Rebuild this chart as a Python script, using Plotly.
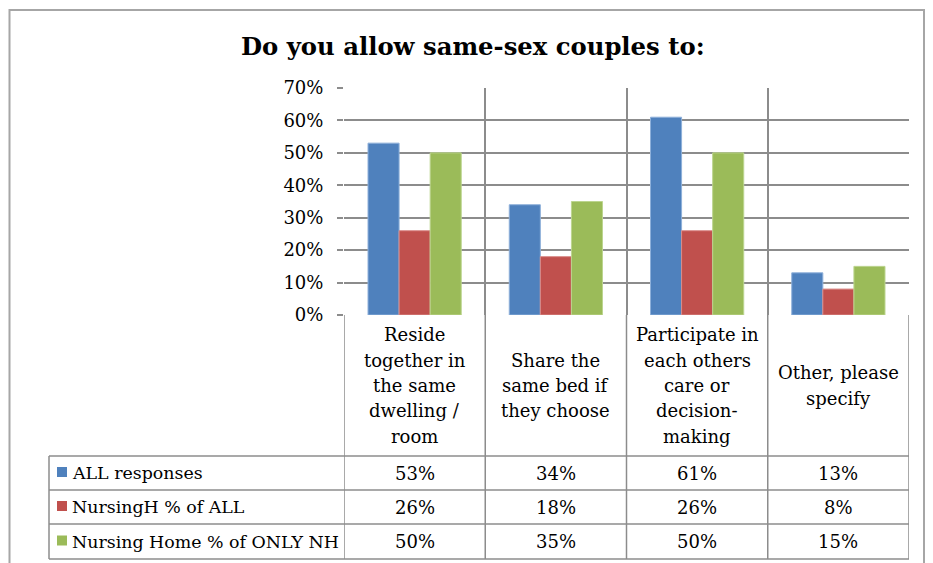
import plotly.graph_objects as go

categories = [
    "Reside together in the same dwelling / room",
    "Share the same bed if they choose",
    "Participate in each others care or decision-making",
    "Other, please specify",
]
category_label_lines = [
    ["Reside", "together in", "the same", "dwelling /", "room"],
    ["Share the", "same bed if", "they choose"],
    ["Participate in", "each others", "care or", "decision-", "making"],
    ["Other, please", "specify"],
]
series_names = ["ALL responses", "NursingH % of ALL", "Nursing Home % of ONLY NH"]
all_responses = [0.53, 0.34, 0.61, 0.13]
nursingh_of_all = [0.26, 0.18, 0.26, 0.08]
nh_of_only_nh = [0.50, 0.35, 0.50, 0.15]
series_values = [all_responses, nursingh_of_all, nh_of_only_nh]
colors = ["#4F81BD", "#C0504D", "#9BBB59"]
edge_colors = ["#8EB0DA", "#DA8C8A", "#BCD58F"]

# page body has an 8px margin: the figure is placed at (8, 8) in the 933x563 window
OFF = 8
W, H = 933 - OFF, 563 - OFF
GRID = "#8C8C8C"
FONT = "DejaVu Serif"
FS = 18


def px(x):
    return (x - OFF) / W


def py(y):
    return (H - (y - OFF)) / H


fig = go.Figure()
for name, vals, c, ec in zip(series_names, series_values, colors, edge_colors):
    fig.add_trace(go.Bar(
        x=categories, y=vals, name=name,
        marker=dict(color=c, line=dict(color=ec, width=1)),
        showlegend=False, hoverinfo="x+y+name",
    ))

plot_left, plot_right = 344, 909
plot_top, plot_bottom = 88, 315
label_bottom = 456
row_lines = [456, 490, 524, 559]
table_left = 49

shapes = []
# outer chart border
shapes.append(dict(type="rect", xref="paper", yref="paper",
                   x0=px(9.5), x1=px(924), y0=py(10), y1=py(580),
                   line=dict(color="#A6A6A6", width=2), fillcolor="rgba(0,0,0,0)", layer="above"))
# vertical lines through label row and table
for i in range(len(categories) + 1):
    shapes.append(dict(type="line", xref="x", yref="paper",
                       x0=i - 0.5, x1=i - 0.5, y0=py(plot_bottom), y1=py(row_lines[-1]),
                       line=dict(color=GRID, width=1.5)))
# table left border
shapes.append(dict(type="line", xref="paper", yref="paper",
                   x0=px(table_left), x1=px(table_left), y0=py(row_lines[0]), y1=py(row_lines[-1]),
                   line=dict(color=GRID, width=1.5)))
# table horizontal lines
for r in row_lines:
    shapes.append(dict(type="line", xref="paper", yref="paper",
                       x0=px(table_left), x1=px(plot_right), y0=py(r), y1=py(r),
                       line=dict(color=GRID, width=1.5)))

annotations = []
# title
annotations.append(dict(text="<b>Do you allow same-sex couples to:</b>", xref="paper", yref="paper",
                        x=px(473), y=py(47), xanchor="center", yanchor="middle", showarrow=False,
                        font=dict(family=FONT, size=24.3, color="#000000")))
# category labels, one line each, vertically centred in the label row
label_mid = (plot_bottom + label_bottom) / 2
LINE_H = 25.3
for cat, lines in zip(categories, category_label_lines):
    n = len(lines)
    for j, line in enumerate(lines):
        yc = label_mid + (j - (n - 1) / 2) * LINE_H
        annotations.append(dict(text=line, xref="x", yref="paper", x=cat, y=py(yc),
                                xanchor="center", yanchor="middle", showarrow=False,
                                font=dict(family=FONT, size=FS, color="#000000")))
# table rows
for k, (name, vals, c) in enumerate(zip(series_names, series_values, colors)):
    top, bot = row_lines[k], row_lines[k + 1]
    mid = (top + bot) / 2
    shapes.append(dict(type="rect", xref="paper", yref="paper",
                       x0=px(57), x1=px(67), y0=py(mid - 6), y1=py(mid + 4),
                       fillcolor=c, line=dict(width=0)))
    annotations.append(dict(text=name, xref="paper", yref="paper", x=px(70), y=py(mid),
                            xanchor="left", yanchor="middle", showarrow=False,
                            font=dict(family=FONT, size=17.4, color="#000000")))
    for cat, v in zip(categories, vals):
        annotations.append(dict(text=f"{round(v * 100)}%", xref="x", yref="paper", x=cat, y=py(mid),
                                xanchor="center", yanchor="middle", showarrow=False,
                                font=dict(family=FONT, size=FS, color="#000000")))

fig.update_layout(
    width=W, height=H,
    margin=dict(l=0, r=0, t=0, b=0, autoexpand=False),
    paper_bgcolor="white", plot_bgcolor="white",
    barmode="group", bargap=0.34, bargroupgap=0,
    xaxis=dict(domain=[px(plot_left), px(plot_right)], type="category",
               range=[-0.5, len(categories) - 0.5], tickson="boundaries",
               showticklabels=False, ticks="", showgrid=True, gridcolor=GRID, gridwidth=1.5,
               showline=False, zeroline=False, fixedrange=True, automargin=False),
    yaxis=dict(domain=[py(plot_bottom), py(plot_top)], range=[0, 0.7], dtick=0.1,
               tickformat=".0%", showgrid=True, gridcolor=GRID, gridwidth=1.5,
               ticks="outside", ticklen=6, tickcolor=GRID, tickwidth=1.5,
               ticklabelstandoff=10,
               showline=False, zeroline=False, fixedrange=True, automargin=False,
               tickfont=dict(family=FONT, size=FS, color="#000000")),
    shapes=shapes, annotations=annotations,
    font=dict(family=FONT),
)

fig.write_html("out.html")
